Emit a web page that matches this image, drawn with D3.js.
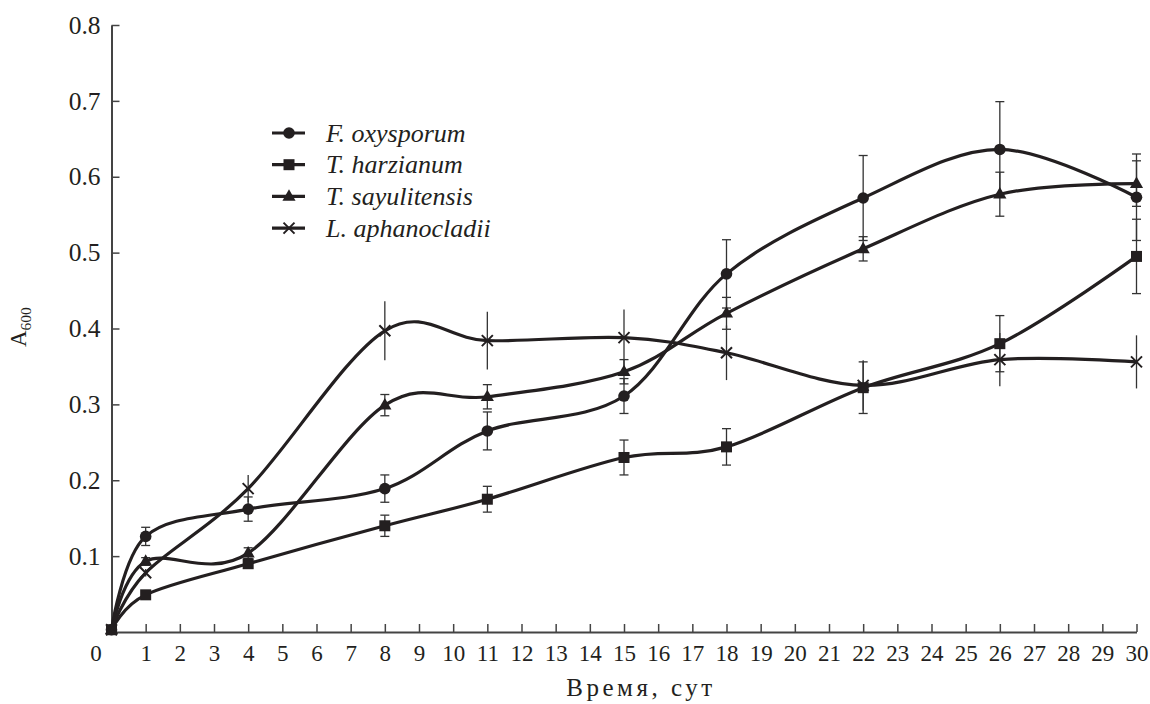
<!DOCTYPE html>
<html>
<head>
<meta charset="utf-8">
<script src="https://cdn.jsdelivr.net/npm/d3@7"></script>
</head>
<body style="margin:0;background:#fff">
<svg id="chart" width="1150" height="704" font-family="Liberation Serif"></svg>
<script>
// ---- data ----
const days = [0, 1, 4, 8, 11, 15, 18, 22, 26, 30];
const seriesNames = ["F. oxysporum", "T. harzianum", "T. sayulitensis", "L. aphanocladii"];
const seriesMarkers = ["circle", "square", "triangle", "cross"];
const fOxysporum      = [0.003, 0.126, 0.162, 0.189, 0.265, 0.311, 0.472, 0.572, 0.636, 0.573];
const fOxysporumErr   = [0, 0.012, 0.016, 0.018, 0.025, 0.023, 0.045, 0.056, 0.063, 0.057];
const tHarzianum      = [0.003, 0.049, 0.090, 0.140, 0.175, 0.230, 0.244, 0.322, 0.380, 0.495];
const tHarzianumErr   = [0, 0.003, 0.005, 0.014, 0.017, 0.023, 0.024, 0.034, 0.037, 0.049];
const tSayulitensis   = [0.003, 0.093, 0.104, 0.299, 0.310, 0.343, 0.420, 0.505, 0.577, 0.591];
const tSayulitensisErr= [0, 0.005, 0.007, 0.014, 0.016, 0.016, 0.021, 0.016, 0.029, 0.030];
const lAphanocladii   = [0.003, 0.078, 0.189, 0.397, 0.384, 0.388, 0.368, 0.325, 0.359, 0.356];
const lAphanocladiiErr= [0, 0.005, 0.018, 0.039, 0.038, 0.037, 0.036, 0.033, 0.035, 0.035];
const xTicks = d3.range(1, 31);
const yTicks = [0.1, 0.2, 0.3, 0.4, 0.5, 0.6, 0.7, 0.8];
const xTitle = "Время, сут";

const seriesValues = [fOxysporum, tHarzianum, tSayulitensis, lAphanocladii];
const seriesErrors = [fOxysporumErr, tHarzianumErr, tSayulitensisErr, lAphanocladiiErr];

// ---- layout ----
const FONT = '"Liberation Serif", "Tinos", serif';
const svg = d3.select("#chart");
const ink = "#231f20";
const axisInk = "#444";
const x = d3.scaleLinear().domain([0, 30]).range([111.5, 1136.5]);
const y = d3.scaleLinear().domain([0, 0.8]).range([632, 25]);

function txt(sel) { return sel.style("font-family", FONT).attr("fill", ink); }

// axes
const gx = svg.append("g").attr("transform", `translate(0,${y(0)})`)
  .call(d3.axisBottom(x).tickValues(xTicks).tickSizeInner(-8).tickSizeOuter(0).tickPadding(13).tickFormat(d3.format("d")));
const gy = svg.append("g").attr("transform", `translate(${x(0)},0)`)
  .call(d3.axisLeft(y).tickValues(yTicks).tickSizeInner(-8).tickSizeOuter(0).tickPadding(11).tickFormat(d3.format(".1f")));
[gx, gy].forEach(g => {
  g.attr("font-family", null);
  g.selectAll("path.domain").attr("stroke", axisInk).attr("stroke-width", 2);
  g.selectAll(".tick line").attr("stroke", axisInk).attr("stroke-width", 1.5);
  txt(g.selectAll(".tick text"));
});
gx.attr("font-size", null).selectAll(".tick text").attr("font-size", 23);
gy.attr("font-size", null).selectAll(".tick text").attr("font-size", 25.5);
// origin label
txt(svg.append("text")).attr("x", 96).attr("y", y(0) + 13).attr("dy", "0.71em")
  .attr("text-anchor", "middle").attr("font-size", 23).text("0");

// axis titles
txt(svg.append("text")).attr("x", 641).attr("y", 696).attr("text-anchor", "middle")
  .attr("font-size", 25).attr("letter-spacing", "3.5px").text(xTitle);
const yt = txt(svg.append("text")).attr("transform", "translate(26,347) rotate(-90)")
  .attr("text-anchor", "start").attr("font-size", 23);
yt.append("tspan").text("A");
yt.append("tspan").attr("font-size", 15.5).attr("dy", 5).text("600");

// error bars
const errG = svg.append("g");
seriesValues.forEach((vals, si) => {
  const errs = seriesErrors[si];
  const hasCap = seriesMarkers[si] !== "cross";
  days.forEach((d, i) => {
    const e = errs[i];
    if (!e) return;
    const cx = x(d), y1 = y(vals[i] + e), y2 = y(vals[i] - e);
    errG.append("line").attr("x1", cx).attr("x2", cx).attr("y1", y1).attr("y2", y2)
      .attr("stroke", "#333").attr("stroke-width", 1.3);
    if (hasCap) {
      [y1, y2].forEach(yy => errG.append("line").attr("x1", cx - 4.5).attr("x2", cx + 4.5)
        .attr("y1", yy).attr("y2", yy).attr("stroke", "#333").attr("stroke-width", 1.3));
    }
  });
});

// lines
const line = d3.line().x((d, i) => x(days[i])).y(d => y(d)).curve(d3.curveCardinal.tension(0));
seriesValues.forEach(vals => {
  svg.append("path").attr("d", line(vals)).attr("fill", "none")
    .attr("stroke", ink).attr("stroke-width", 3.2).attr("stroke-linejoin", "round");
});

// markers
function drawMarker(g, type, cx, cy) {
  if (type === "circle") {
    g.append("circle").attr("cx", cx).attr("cy", cy).attr("r", 5.8).attr("fill", ink);
  } else if (type === "square") {
    g.append("rect").attr("x", cx - 5.5).attr("y", cy - 5.5).attr("width", 11).attr("height", 11).attr("fill", ink);
  } else if (type === "triangle") {
    g.append("path").attr("transform", `translate(${cx},${cy + 0.5})`)
      .attr("d", d3.symbol().type(d3.symbolTriangle).size(75)()).attr("fill", ink);
  } else {
    const s = 5.5;
    g.append("path").attr("d", `M${cx - s},${cy - s}L${cx + s},${cy + s}M${cx - s},${cy + s}L${cx + s},${cy - s}`)
      .attr("stroke", ink).attr("stroke-width", 2).attr("fill", "none");
  }
}
const mk = svg.append("g");
seriesValues.forEach((vals, si) => {
  days.forEach((d, i) => drawMarker(mk, seriesMarkers[si], x(d), y(vals[i])));
});

// legend
const lg = svg.append("g");
seriesNames.forEach((name, i) => {
  const cy = 133 + i * 31.7;
  lg.append("line").attr("x1", 272).attr("x2", 305).attr("y1", cy).attr("y2", cy)
    .attr("stroke", ink).attr("stroke-width", 3.2);
  drawMarker(lg, seriesMarkers[i], 289, cy);
  txt(lg.append("text")).attr("x", 326).attr("y", cy + 8.5).attr("font-size", 26)
    .attr("font-style", "italic").text(name);
});
</script>
</body>
</html>
